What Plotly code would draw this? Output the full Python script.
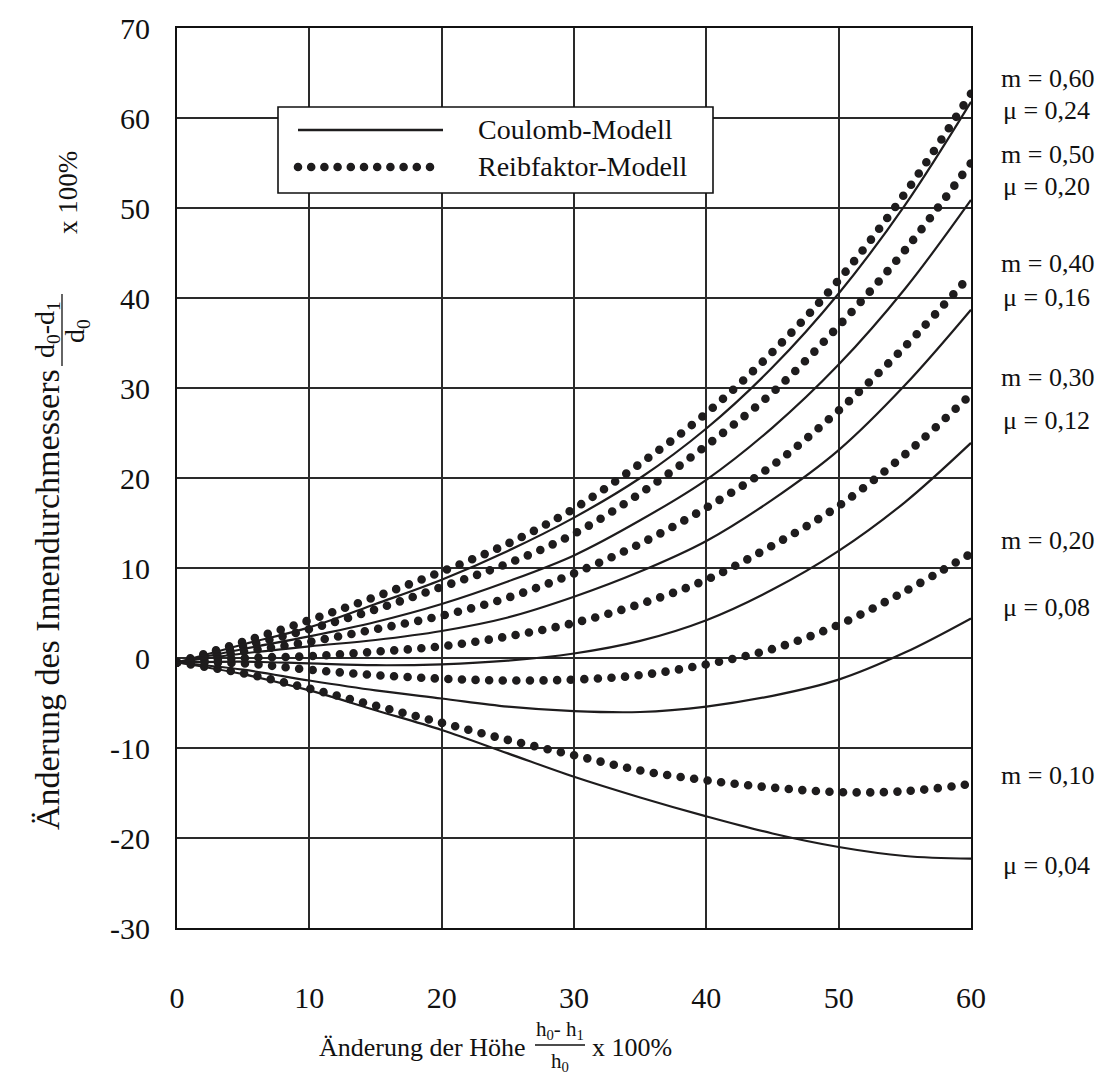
import plotly.graph_objects as go

# ---------------- data ----------------
x_pct = [0, 5, 10, 15, 20, 25, 30, 35, 40, 45, 50, 55, 60]

# Reibfaktor-Modell (dotted), friction factor m
reib_m060 = [-0.5, 1.8, 4.2, 6.8, 9.6, 12.7, 16.6, 21.6, 27.2, 34.0, 42.0, 51.6, 62.7]
reib_m050 = [-0.5, 1.3, 3.2, 5.4, 7.9, 10.5, 13.8, 18.3, 23.6, 29.5, 36.9, 45.3, 55.0]
reib_m040 = [-0.5, 0.7, 1.8, 3.2, 4.7, 6.7, 9.4, 12.7, 16.7, 21.4, 27.5, 34.6, 42.6]
reib_m030 = [-0.5, 0.0, 0.2, 0.7, 1.3, 2.4, 3.9, 6.0, 8.7, 12.5, 16.9, 22.6, 29.3]
reib_m020 = [-0.5, -0.6, -1.3, -1.9, -2.3, -2.5, -2.4, -1.9, -0.7, 1.0, 3.7, 7.4, 11.6]
reib_m010 = [-0.5, -1.7, -3.4, -5.3, -7.2, -9.1, -10.8, -12.5, -13.6, -14.4, -14.9, -14.8, -14.0]

# Coulomb-Modell (solid), friction coefficient mu
coul_mu024 = [-0.5, 1.5, 3.4, 6.0, 8.7, 11.9, 15.6, 20.0, 25.5, 32.3, 40.5, 50.3, 61.8]
coul_mu020 = [-0.5, 1.0, 2.4, 4.0, 6.0, 8.5, 11.4, 15.3, 19.8, 25.6, 32.6, 41.0, 50.9]
coul_mu016 = [-0.5, 0.5, 1.3, 2.0, 3.0, 4.5, 6.8, 9.6, 13.0, 17.6, 23.1, 30.3, 38.7]
coul_mu012 = [-0.5, -0.4, -0.6, -0.8, -0.7, -0.3, 0.5, 1.9, 4.2, 7.6, 11.9, 17.3, 23.9]
coul_mu008 = [-0.5, -1.3, -2.5, -3.6, -4.5, -5.4, -5.9, -6.0, -5.4, -4.2, -2.4, 0.6, 4.4]
coul_mu004 = [-0.5, -1.8, -3.6, -5.8, -8.0, -10.6, -13.2, -15.5, -17.6, -19.5, -21.0, -22.0, -22.3]

reib_names = ["m = 0,60", "m = 0,50", "m = 0,40", "m = 0,30", "m = 0,20", "m = 0,10"]
coul_names = ["\u03bc = 0,24", "\u03bc = 0,20", "\u03bc = 0,16", "\u03bc = 0,12", "\u03bc = 0,08", "\u03bc = 0,04"]
reib_series = [reib_m060, reib_m050, reib_m040, reib_m030, reib_m020, reib_m010]
coul_series = [coul_mu024, coul_mu020, coul_mu016, coul_mu012, coul_mu008, coul_mu004]

x_ticks = [0, 10, 20, 30, 40, 50, 60]
y_ticks = [-30, -20, -10, 0, 10, 20, 30, 40, 50, 60, 70]

legend_labels = ["Coulomb-Modell", "Reibfaktor-Modell"]
x_title = "\u00c4nderung der H\u00f6he"
y_title = "\u00c4nderung des Innendurchmessers"

# ---------------- layout geometry (pixels) ----------------
W, H = 1102, 1076
L, R, T, B = 177, 971, 28, 928
FONT = "Liberation Serif, Times New Roman, serif"
INK = "#1e1c1d"
TXT = "#111"


def px(xp):
    return (xp - L) / (R - L)


def py(yp):
    return (B - yp) / (B - T)


DOT_DASH = "0px,13.6px"

fig = go.Figure()

for ys in reib_series:
    fig.add_trace(go.Scatter(
        x=x_pct, y=ys, mode="lines",
        line=dict(color=INK, width=8.6, dash=DOT_DASH, shape="spline", smoothing=1.0),
        cliponaxis=False, showlegend=False, hoverinfo="skip"))

for ys in coul_series:
    fig.add_trace(go.Scatter(
        x=x_pct, y=ys, mode="lines",
        line=dict(color=INK, width=2.2, shape="spline", smoothing=1.0),
        cliponaxis=False, showlegend=False, hoverinfo="skip"))

axis_common = dict(
    showgrid=True, gridcolor="#2a2a2a", gridwidth=1.5,
    showline=True, mirror=True, linecolor="#111", linewidth=2,
    zeroline=False, ticks="",
    tickfont=dict(family=FONT, size=30, color=TXT),
)

fig.update_xaxes(range=[0, 60], tickvals=x_ticks, ticktext=[str(v) for v in x_ticks],
                 ticklabelstandoff=42, **axis_common)
fig.update_yaxes(range=[-30, 70], tickvals=y_ticks, ticktext=[str(v) for v in y_ticks],
                 ticklabelstandoff=19, **axis_common)

shapes = []
annotations = []


def note(text, x, y, size, xanchor="center", angle=0):
    annotations.append(dict(text=text, xref="paper", yref="paper", x=px(x), y=py(y),
                            xanchor=xanchor, yanchor="middle", showarrow=False,
                            textangle=angle, font=dict(family=FONT, size=size, color=TXT)))


# legend box
shapes.append(dict(type="rect", xref="paper", yref="paper",
                   x0=px(278), x1=px(713), y0=py(193), y1=py(107),
                   line=dict(color="#111", width=1.6), fillcolor="white", layer="above"))
shapes.append(dict(type="line", xref="paper", yref="paper",
                   x0=px(298), x1=px(443), y0=py(130), y1=py(130),
                   line=dict(color=INK, width=2.4), layer="above"))
shapes.append(dict(type="line", xref="paper", yref="paper",
                   x0=px(298), x1=px(443), y0=py(167), y1=py(167),
                   line=dict(color=INK, width=8.6, dash="0px,13.2px"), layer="above"))
for lab, yy in zip(legend_labels, [130, 166]):
    note(lab, 476, yy, 28, xanchor="left")

# right-side labels
m_y = [78, 155, 263, 378, 540, 775]
mu_y = [110, 186, 297, 420, 608, 865]
for lab, yy in zip(reib_names, m_y):
    note(lab, 999, yy, 26, xanchor="left")
for lab, yy in zip(coul_names, mu_y):
    note(lab, 1001, yy, 26, xanchor="left")

# x-axis title with fraction
note(x_title, 422, 1047, 26)
note("h<sub>0</sub>- h<sub>1</sub>", 560, 1030, 21)
shapes.append(dict(type="line", xref="paper", yref="paper", x0=px(535), x1=px(585),
                   y0=py(1045), y1=py(1045), line=dict(color="#111", width=1.3)))
note("h<sub>0</sub>", 560, 1062, 21)
note("x 100%", 590, 1047, 26, xanchor="left")

# y-axis title with fraction (rotated)
note(y_title, 47, 600, 34, angle=-90)
note("d<sub>0</sub>-d<sub>1</sub>", 46, 330, 28, angle=-90)
shapes.append(dict(type="line", xref="paper", yref="paper", x0=px(62), x1=px(62),
                   y0=py(294), y1=py(366), line=dict(color="#111", width=1.3)))
note("d<sub>0</sub>", 76, 331, 28, angle=-90)
note("x 100%", 68, 193, 27, angle=-90)

fig.update_layout(
    width=W, height=H,
    margin=dict(l=L, r=W - R, t=T, b=H - B, pad=0),
    paper_bgcolor="white", plot_bgcolor="white",
    showlegend=False,
    shapes=shapes, annotations=annotations,
    font=dict(family=FONT, size=26, color=TXT),
)

round_dots_js = """
document.body.style.margin = '0';
document.body.style.padding = '0';
var gd = document.getElementById('{plot_id}');
function roundDots(){
  var paths = gd.querySelectorAll('path');
  for (var i = 0; i < paths.length; i++) {
    var d = paths[i].style.strokeDasharray || paths[i].getAttribute('stroke-dasharray') || '';
    if (d.replace(/\\s/g,'').indexOf('0px,') === 0) {
      paths[i].style.strokeLinecap = 'round';
    }
  }
}
roundDots();
if (gd.on) { gd.on('plotly_afterplot', roundDots); }
setTimeout(roundDots, 50);
setTimeout(roundDots, 300);
"""

fig.write_html("out.html", post_script=round_dots_js, config={"displayModeBar": False})
